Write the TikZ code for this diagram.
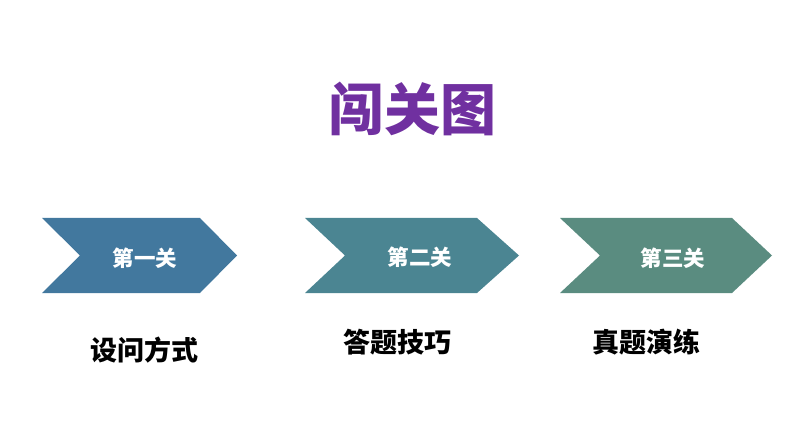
\documentclass[tikz,border=0pt]{standalone}
\usepackage{fontspec}
\newfontfamily\cjk{Noto Sans CJK SC}
\definecolor{cA}{HTML}{42789E}
\definecolor{cB}{HTML}{4B8592}
\definecolor{cC}{HTML}{5A8C80}
\definecolor{ttl}{HTML}{7030A0}
\begin{document}
\begin{tikzpicture}[x=1pt,y=-1pt,
  lab/.style={text=white,font=\cjk\bfseries\fontsize{21.5}{24}\selectfont},
  sub/.style={text=black,font=\cjk\bfseries\fontsize{27}{30}\selectfont}]
\useasboundingbox (0,0) rectangle (794,446);
\fill[cA] (42,218) -- (200,218) -- (237,255.5) -- (200,293) -- (42,293) -- (80,255.5) -- cycle;
\fill[cB] (305,218) -- (477,218) -- (519,255.5) -- (477,293) -- (305,293) -- (345,255.5) -- cycle;
\fill[cC] (560,218) -- (732,218) -- (772,255.5) -- (732,293) -- (560,293) -- (600,255.5) -- cycle;
\node[text=ttl,font=\cjk\bfseries\fontsize{56}{60}\selectfont] (title) at (412,109) {闯关图};
\node[lab] (l1) at (145,258) {第一关};
\node[lab] (l2) at (420,257) {第二关};
\node[lab] (l3) at (673,258) {第三关};
\node[sub] (s1) at (144,350) {设问方式};
\node[sub] (s2) at (397,342) {答题技巧};
\node[sub] (s3) at (646,342) {真题演练};
\end{tikzpicture}
\end{document}
